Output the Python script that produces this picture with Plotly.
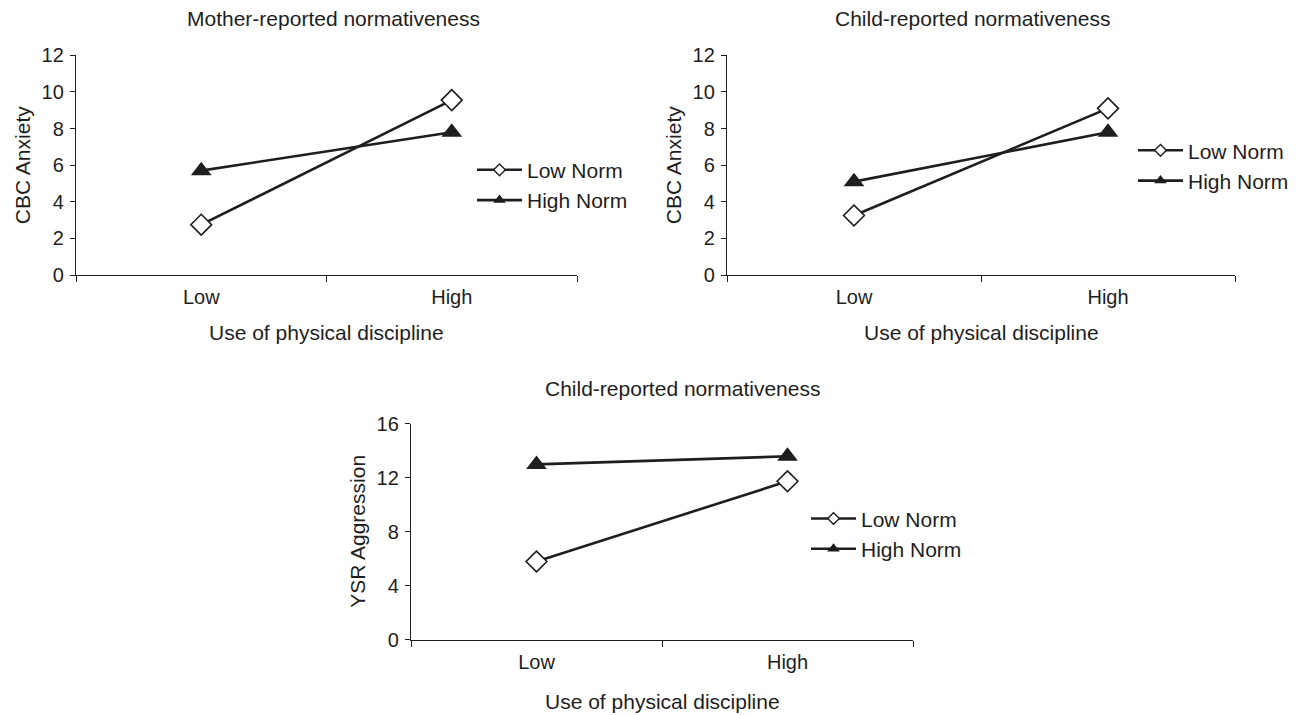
import plotly.graph_objects as go

categories = ["Low", "High"]
series_names = ["Low Norm", "High Norm"]

# Panel 1: Mother-reported normativeness, CBC Anxiety
p1_low_norm = [2.75, 9.55]
p1_high_norm = [5.7, 7.8]

# Panel 2: Child-reported normativeness, CBC Anxiety
p2_low_norm = [3.25, 9.1]
p2_high_norm = [5.1, 7.8]

# Panel 3: Child-reported normativeness, YSR Aggression
p3_low_norm = [5.8, 11.75]
p3_high_norm = [13.0, 13.6]

panel_titles = ["Mother-reported normativeness", "Child-reported normativeness", "Child-reported normativeness"]
y_titles = ["CBC Anxiety", "CBC Anxiety", "YSR Aggression"]
x_title = "Use of physical discipline"

W, H = 1303, 715
FONT = "Liberation Sans, Arial, sans-serif"
INK = "#1e1e1e"
FS = 21
TFS = 20


def px(x):
    return x / W


def py(y):
    y = 357.5 + (y - 357.5) / 0.97
    return 1 - y / H


fig = go.Figure()

panels = [
    dict(lo=p1_low_norm, hi=p1_high_norm, xa="x", ya="y", leg="legend",
         xl=76, xr=577, yb=275, yt=55, yr=[0, 12], dt=2,
         legx=472, legy=185, tx=333, ty=18, ytx=22, xty=332),
    dict(lo=p2_low_norm, hi=p2_high_norm, xa="x2", ya="y2", leg="legend2",
         xl=727, xr=1235, yb=275, yt=55, yr=[0, 12], dt=2,
         legx=1133, legy=165.5, tx=972, ty=18, ytx=673, xty=332),
    dict(lo=p3_low_norm, hi=p3_high_norm, xa="x3", ya="y3", leg="legend3",
         xl=411, xr=913, yb=640, yt=424, yr=[0, 16], dt=4,
         legx=806, legy=534, tx=682, ty=389, ytx=358, xty=702),
]

layout = dict(
    width=W, height=H,
    margin=dict(l=0, r=0, t=0, b=0),
    paper_bgcolor="white", plot_bgcolor="white",
    font=dict(family=FONT, size=FS, color=INK),
    showlegend=True,
    annotations=[],
)

for i, p in enumerate(panels):
    # data traces
    fig.add_trace(go.Scatter(
        x=categories, y=p["lo"], name=series_names[0], mode="lines+markers",
        xaxis=p["xa"], yaxis=p["ya"], showlegend=False,
        line=dict(color=INK, width=2.6),
        marker=dict(symbol="diamond", size=16, color="white", line=dict(color=INK, width=1.6)),
    ))
    fig.add_trace(go.Scatter(
        x=categories, y=p["hi"], name=series_names[1], mode="lines+markers",
        xaxis=p["xa"], yaxis=p["ya"], showlegend=False,
        line=dict(color=INK, width=2.6),
        marker=dict(symbol="triangle-up", size=18, color=INK, line=dict(color=INK, width=0)),
    ))
    # legend entries (smaller legend symbols, as in the reference)
    fig.add_trace(go.Scatter(
        x=[None], y=[None], name=series_names[0], mode="lines+markers",
        xaxis=p["xa"], yaxis=p["ya"], legend=p["leg"], legendgroup=f"a{i}",
        line=dict(color=INK, width=2.6),
        marker=dict(symbol="diamond", size=9, color="white", line=dict(color=INK, width=1.4)),
    ))
    fig.add_trace(go.Scatter(
        x=[None], y=[None], name=series_names[1], mode="lines+markers",
        xaxis=p["xa"], yaxis=p["ya"], legend=p["leg"], legendgroup=f"b{i}",
        line=dict(color=INK, width=2.6),
        marker=dict(symbol="triangle-up", size=11, color=INK, line=dict(color=INK, width=0)),
    ))
    sfx = "" if i == 0 else str(i + 1)
    layout["xaxis" + sfx] = dict(
        domain=[px(p["xl"]), px(p["xr"])], anchor=p["ya"], type="category", range=[-0.5, 1.5],
        showline=True, linecolor=INK, linewidth=1.4, ticks="outside", tickson="boundaries",
        ticklen=6, tickwidth=1.4, tickcolor=INK, showgrid=False, zeroline=False,
        tickfont=dict(size=TFS), ticklabelstandoff=4, fixedrange=True,
    )
    layout["yaxis" + sfx] = dict(
        domain=[py(p["yb"]), py(p["yt"])], anchor=p["xa"], range=p["yr"], dtick=p["dt"], tick0=0,
        showline=True, linecolor=INK, linewidth=1.4, ticks="outside", ticklen=5,
        tickwidth=1.4, tickcolor=INK, showgrid=False, zeroline=False,
        tickfont=dict(size=TFS), ticklabelstandoff=2, fixedrange=True,
    )
    layout["legend" + sfx] = dict(
        x=px(p["legx"]), y=py(p["legy"]), xanchor="left", yanchor="middle",
        bgcolor="rgba(0,0,0,0)", borderwidth=0, font=dict(size=FS),
        itemsizing="trace", itemwidth=45, traceorder="grouped", tracegroupgap=0,
    )
    layout["annotations"].append(dict(
        text=panel_titles[i], x=px(p["tx"]), y=py(p["ty"]), xref="paper", yref="paper",
        xanchor="center", yanchor="middle", showarrow=False, font=dict(size=FS),
    ))
    layout["annotations"].append(dict(
        text=y_titles[i], x=px(p["ytx"]), y=py((p["yb"] + p["yt"]) / 2), xref="paper", yref="paper",
        xanchor="center", yanchor="middle", showarrow=False, textangle=-90, font=dict(size=FS),
    ))
    layout["annotations"].append(dict(
        text=x_title, x=px((p["xl"] + p["xr"]) / 2), y=py(p["xty"]), xref="paper", yref="paper",
        xanchor="center", yanchor="middle", showarrow=False, font=dict(size=FS),
    ))

fig.update_layout(**layout)
fig.write_html(
    "out.html",
    config={"displayModeBar": False},
    post_script="document.body.style.margin='0';document.body.style.overflow='hidden';",
)
